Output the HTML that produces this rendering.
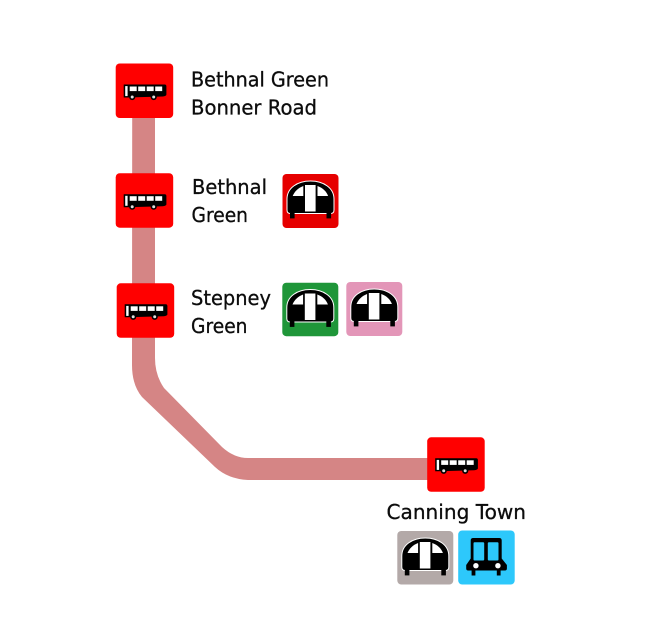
<!DOCTYPE html>
<html>
<head>
<meta charset="utf-8">
<style>
html,body{margin:0;padding:0;background:#fff}
svg{display:block}
text{font-family:"DejaVu Sans","Liberation Sans",sans-serif;font-size:20.5px;fill:#0c0c0c;stroke:#0c0c0c;stroke-width:.3px}
</style>
</head>
<body>
<svg width="666" height="629" viewBox="0 0 666 629" xmlns="http://www.w3.org/2000/svg">
<defs>
<g id="bus">
<rect x="0" y="0" width="57.5" height="54.5" rx="4" fill="#ff0000"/>
<path d="M8 21 H49 Q50.7 21 50.7 23 V31 Q50.7 32.5 47 33 L11 34 H8 Z" fill="#000"/>
<rect x="9.5" y="22.6" width="2.4" height="10" fill="#fff"/>
<rect x="14" y="23" width="7" height="4.6" fill="#fff"/>
<rect x="22.5" y="23" width="7" height="4.6" fill="#fff"/>
<rect x="31" y="23" width="7" height="4.6" fill="#fff"/>
<rect x="39.5" y="23" width="7" height="4.6" fill="#fff"/>
<circle cx="16.5" cy="33.5" r="2.3" fill="#ddd" stroke="#000" stroke-width="1.6"/>
<circle cx="38" cy="33.5" r="2.3" fill="#ddd" stroke="#000" stroke-width="1.6"/>
</g>
<g id="tube">
<path d="M4.5 36 V25 C4.5 14 15 7 28 7 S51.5 14 51.5 25 V36 Q51.5 39.5 48 39.5 H8 Q4.5 39.5 4.5 36 Z" fill="#000" stroke="#fff" stroke-width="1"/>
<rect x="7.5" y="39" width="4.6" height="5.4" fill="#000"/>
<rect x="44" y="39" width="4.6" height="5.4" fill="#000"/>
<rect x="22.5" y="11" width="10.6" height="26.5" fill="#fff"/>
<path d="M10.2 22 C12 17.5 15.5 14 20.8 12 V22 Z" fill="#fff"/>
<path d="M45.6 22 C44 17.5 40.5 14 35 12 V22 Z" fill="#fff"/>
</g>
</defs>

<path d="M132.2 118 H155 V358 Q155 375 164 388 L222 447 Q234 458 248 458 H430 V480 H248 Q228 479 215 467 L142 397 Q132 385 132 365 Z" fill="#d58585"/>

<use href="#bus" x="115.7" y="63.5"/>
<use href="#bus" x="115.7" y="173.2"/>
<use href="#bus" x="116.7" y="283.3"/>
<use href="#bus" x="427.2" y="437.3"/>

<rect x="282.5" y="174" width="56" height="54" rx="4" fill="#e60000"/>
<use href="#tube" x="282.5" y="174"/>
<rect x="282.3" y="282.7" width="56" height="53.5" rx="4" fill="#1f9639"/>
<use href="#tube" x="282.3" y="282.5"/>
<rect x="346.3" y="282" width="56" height="54" rx="4" fill="#e396b8"/>
<use href="#tube" x="346.3" y="282"/>
<rect x="397.3" y="531" width="56" height="53.5" rx="4" fill="#b3a9a8"/>
<use href="#tube" x="397.3" y="531"/>

<rect x="458.2" y="530.5" width="56.5" height="54" rx="4" fill="#2dc8fb"/>
<g transform="translate(458.2,530.5)">
<path d="M12.5 10 Q12.5 7.5 15 7.5 H41 Q43.5 7.5 43.5 10 V28 L48.7 34.5 V38 Q48.7 40 46.7 40 H10 Q8 40 8 38 V34.5 L12.5 28 Z" fill="#000"/>
<rect x="15.3" y="11.7" width="10.7" height="18.3" rx="1" fill="#2dc8fb"/>
<rect x="29.6" y="11.7" width="10.7" height="18.3" rx="1" fill="#2dc8fb"/>
<circle cx="17.7" cy="35.2" r="2.7" fill="#fff"/>
<circle cx="39.7" cy="35.2" r="2.7" fill="#fff"/>
<rect x="13.4" y="40" width="3.8" height="5" fill="#000"/>
<rect x="38.6" y="40" width="3.8" height="5" fill="#000"/>
</g>

<text x="191" y="86.5" textLength="138" lengthAdjust="spacingAndGlyphs">Bethnal Green</text>
<text x="191" y="114.5" textLength="126" lengthAdjust="spacingAndGlyphs">Bonner Road</text>
<text x="192" y="194" textLength="75" lengthAdjust="spacingAndGlyphs">Bethnal</text>
<text x="191.5" y="222" textLength="56.5" lengthAdjust="spacingAndGlyphs">Green</text>
<text x="191" y="305" textLength="80" lengthAdjust="spacingAndGlyphs">Stepney</text>
<text x="191" y="333" textLength="56.5" lengthAdjust="spacingAndGlyphs">Green</text>
<text x="386.5" y="519" textLength="139.5" lengthAdjust="spacingAndGlyphs">Canning Town</text>
</svg>
</body>
</html>
